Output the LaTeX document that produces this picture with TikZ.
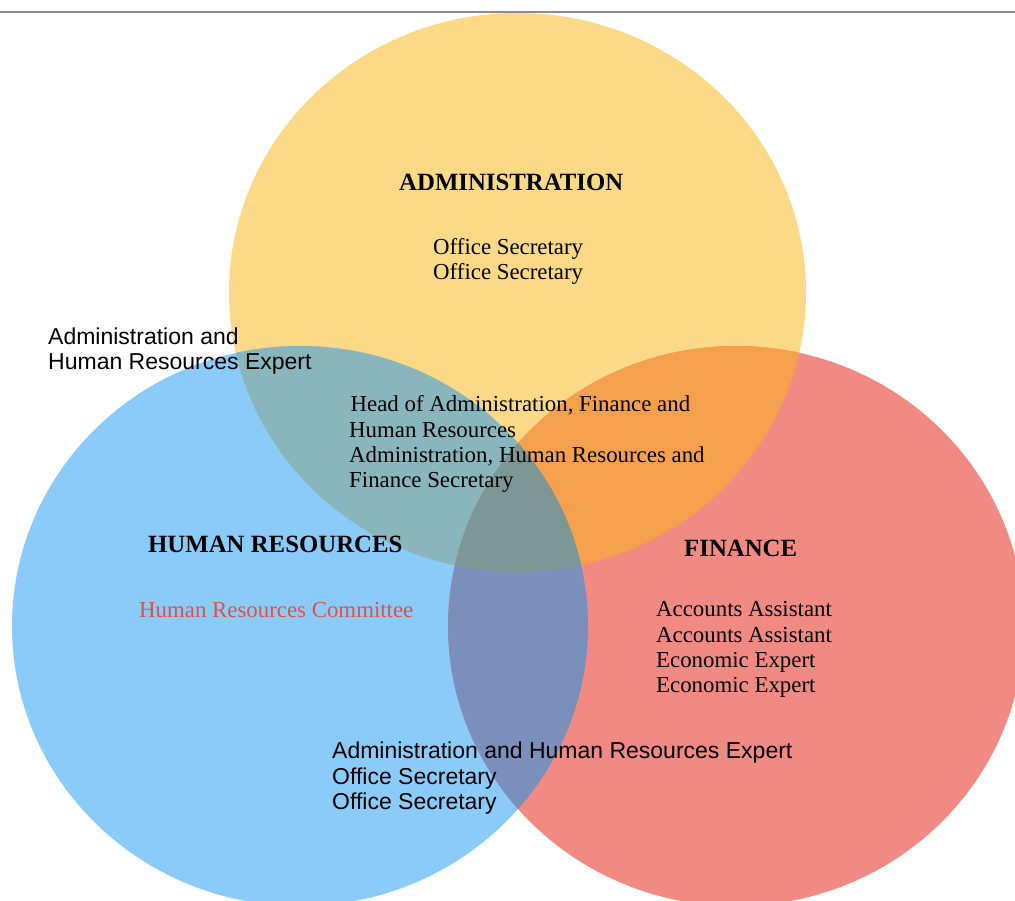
\documentclass[tikz,border=0pt]{standalone}
\usepackage{fontspec}
\setmainfont{Liberation Serif}
\newfontfamily\arialf{Liberation Sans}
\definecolor{cAdm}{HTML}{FBD986}
\definecolor{cHR}{HTML}{8BCBFA}
\definecolor{cFin}{HTML}{F08A82}
\definecolor{cAH}{HTML}{88B6BC}
\definecolor{cAF}{HTML}{F4A04D}
\definecolor{cHF}{HTML}{7B8FBC}
\definecolor{cAHF}{HTML}{7D9796}
\definecolor{cRedText}{HTML}{D9534A}
\definecolor{cRule}{HTML}{8C8C8C}
\tikzset{
  serifbody/.style={anchor=base west, inner sep=0pt, align=left, font=\fontsize{22.85}{25.2}\selectfont, text=black},
  sansbody/.style={anchor=base west, inner sep=0pt, align=left, font=\arialf\fontsize{23}{25.4}\selectfont, text=black},
  titletext/.style={anchor=base west, inner sep=0pt, font=\bfseries\fontsize{24.8}{28}\selectfont, text=black}
}
\begin{document}
\begin{tikzpicture}[x=1pt,y=-1pt]
\clip (0,0) rectangle (1015,901);
\fill[white] (0,0) rectangle (1015,901);
% circles
\fill[cAdm] (517.5,292.5) ellipse [x radius=288.5pt, y radius=279.5pt];
\fill[cHR] (300,626) ellipse [x radius=288pt, y radius=280pt];
\fill[cFin] (736,626) ellipse [x radius=288pt, y radius=280pt];
% pairwise overlaps
\begin{scope}
  \clip (517.5,292.5) ellipse [x radius=288.5pt, y radius=279.5pt];
  \fill[cAH] (300,626) ellipse [x radius=288pt, y radius=280pt];
  \fill[cAF] (736,626) ellipse [x radius=288pt, y radius=280pt];
\end{scope}
\begin{scope}
  \clip (300,626) ellipse [x radius=288pt, y radius=280pt];
  \fill[cHF] (736,626) ellipse [x radius=288pt, y radius=280pt];
\end{scope}
% triple overlap
\begin{scope}
  \clip (517.5,292.5) ellipse [x radius=288.5pt, y radius=279.5pt];
  \clip (300,626) ellipse [x radius=288pt, y radius=280pt];
  \fill[cAHF] (736,626) ellipse [x radius=288pt, y radius=280pt];
\end{scope}
% top rule
\draw[cRule, line width=1.4pt] (0,12) -- (1015,12);
% texts (multi-line nodes: base anchor is the last line's baseline)
\node[titletext] (admtitle) at (399,191) {ADMINISTRATION};
\node[serifbody] (admlist) at (433,279.5) {Office Secretary\\Office Secretary};
\node[sansbody] (ahexpert) at (48,369.5) {Administration and\\Human Resources Expert};
\node[serifbody] (centre) at (349,487.5) {\hspace{1.5pt}Head of Administration, Finance and\\Human Resources\\Administration, Human Resources and\\Finance Secretary};
\node[titletext] (hrtitle) at (148,552) {HUMAN RESOURCES};
\node[serifbody, text=cRedText] (hrlist) at (139,617) {Human Resources Committee};
\node[titletext] (fintitle) at (684,556) {FINANCE};
\node[serifbody] (finlist) at (656,692.5) {Accounts Assistant\\Accounts Assistant\\Economic Expert\\Economic Expert};
\node[sansbody] (hflist) at (332,809.5) {Administration and Human Resources Expert\\Office Secretary\\Office Secretary};
\end{tikzpicture}
\end{document}
